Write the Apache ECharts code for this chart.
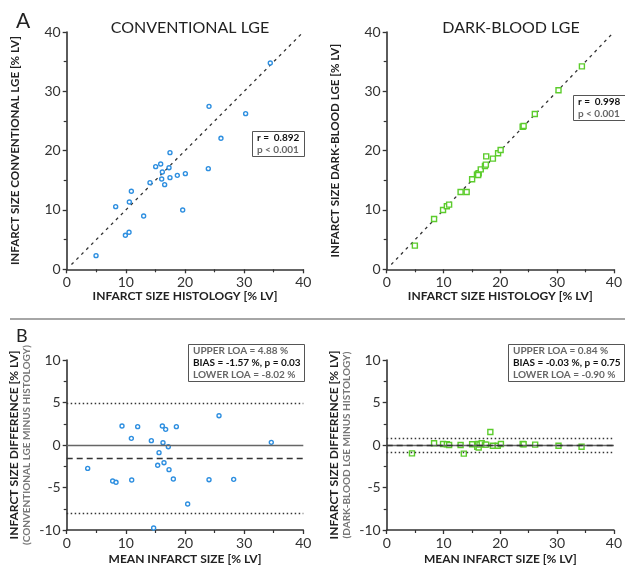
<!DOCTYPE html>
<html>
<head>
<meta charset="utf-8">
<script src="https://cdn.jsdelivr.net/npm/echarts@6/dist/echarts.min.js"></script>
<style>
  html, body { margin: 0; padding: 0; background: #fff; }
  #chart { width: 625px; height: 568px; }
</style>
</head>
<body>
<div id="chart"></div>
<script>
// Infarct size: histology vs conventional LGE (% LV)
const convHist = [4.96, 8.28, 9.92, 10.54, 10.59, 10.93, 13.01, 14.08, 15.04, 15.89, 16.17, 16.06,
                  16.56, 17.30, 17.46, 17.46, 18.70, 19.61, 20.06, 23.94, 24.06, 26.08, 30.25, 34.42];
const convLge  = [2.30, 10.56, 5.73, 6.24, 11.35, 13.15, 8.99, 14.61, 17.30, 17.75, 16.40, 15.22,
                  14.27, 17.13, 19.66, 15.45, 15.84, 10.00, 16.12, 16.97, 27.47, 22.08, 26.24, 34.78];

// Infarct size: histology vs dark-blood LGE (% LV)
const dbHist = [4.96, 8.34, 9.92, 10.59, 10.99, 13.01, 14.08, 15.04, 15.89, 16.06, 16.20, 16.10,
                16.56, 17.30, 17.46, 17.52, 18.70, 19.61, 20.06, 23.94, 24.11, 26.08, 30.25, 34.37];
const dbLge  = [3.99, 8.48, 10.00, 10.62, 10.90, 13.03, 13.03, 15.17, 15.96, 16.07, 16.20, 15.90,
                16.85, 17.40, 17.64, 19.04, 18.65, 19.55, 20.11, 24.04, 24.16, 26.18, 30.17, 34.21];

// Bland-Altman: conventional LGE minus histology
const baConvMean = [3.55, 7.77, 8.34, 9.35, 10.93, 10.99, 12.00, 14.31, 14.70, 15.38, 15.61, 16.17,
                    16.28, 16.45, 16.73, 17.18, 17.30, 18.03, 18.54, 20.45, 24.06, 25.75, 28.23, 34.59];
const baConvDiff = [-2.75, -4.24, -4.39, 2.24, 0.78, -4.12, 2.16, 0.51, -9.76, -2.39, -0.90, 2.24,
                    0.27, -2.08, 1.84, -0.20, -2.90, -4.00, 2.16, -6.94, -4.08, 3.45, -4.04, 0.31];

// Bland-Altman: dark-blood LGE minus histology
const baDbMean = [4.45, 8.34, 9.92, 10.59, 10.99, 13.01, 13.58, 15.04, 15.94, 16.06, 16.20, 16.34,
                  16.73, 17.30, 17.52, 18.25, 18.70, 19.55, 20.11, 23.94, 24.11, 26.14, 30.25, 34.31];
const baDbDiff = [-0.98, 0.20, 0.12, 0.08, 0.00, 0.00, -1.02, 0.08, -0.20, 0.12, -0.30, 0.04,
                  0.20, 0.04, 0.04, 1.53, -0.08, -0.08, 0.12, 0.12, 0.08, 0.04, -0.08, -0.20];

// Limits of agreement: [upper, bias, lower]
const loaConv = [4.88, -1.57, -8.02];
const loaDb   = [0.84, -0.03, -0.90];
const biasP   = [0.03, 0.75];

// Correlation statistics
const corrR = [0.892, 0.998];

// Line of identity
const identity = [[0.8, 0.8], [40, 40]];

// Axis ticks: [min, max, interval]
const corrTicks = [0, 40, 10];
const diffTicks = [-10, 10, 5];

const FONT = 'Lato';
const AXIS_COLOR = '#333';
const BLUE = '#2e8fe0';
const GREEN = '#5ccc2c';

const pairs = (a, b) => a.map((v, i) => [v, b[i]]);

function xAxisFor(gridIndex, name, gap) {
  return {
    type: 'value', gridIndex, min: corrTicks[0], max: corrTicks[1], interval: corrTicks[2],
    name, nameLocation: 'middle', nameGap: gap,
    nameTextStyle: { fontFamily: FONT, fontWeight: 'bold', fontSize: 12, color: '#222' },
    axisLine: { show: true, onZero: false, lineStyle: { color: AXIS_COLOR, width: 1.6 } },
    axisTick: { show: true, length: 4, lineStyle: { color: AXIS_COLOR, width: 1.3 } },
    minorTick: { show: true, splitNumber: 2, length: 3, lineStyle: { color: AXIS_COLOR, width: 1.2 } },
    splitLine: { show: false },
    axisLabel: { fontFamily: FONT, fontSize: 14, color: '#333', margin: 6 }
  };
}

function yAxisFor(gridIndex, ticks, name, gap, rich) {
  return {
    type: 'value', gridIndex, min: ticks[0], max: ticks[1], interval: ticks[2],
    name, nameLocation: 'middle', nameGap: gap, nameRotate: 90,
    nameTextStyle: Object.assign({ fontFamily: FONT, fontWeight: 'bold', fontSize: 11.6, color: '#222' },
                                 rich ? { rich } : {}),
    axisLine: { show: true, onZero: false, lineStyle: { color: AXIS_COLOR, width: 1.6 } },
    axisTick: { show: true, length: 4, lineStyle: { color: AXIS_COLOR, width: 1.3 } },
    minorTick: { show: true, splitNumber: 2, length: 3, lineStyle: { color: AXIS_COLOR, width: 1.2 } },
    splitLine: { show: false },
    axisLabel: { fontFamily: FONT, fontSize: 14, color: '#333', margin: 6 }
  };
}

const diffRich = {
  a: { fontFamily: FONT, fontWeight: 'bold', fontSize: 12, color: '#222', lineHeight: 13 },
  b: { fontFamily: FONT, fontSize: 10, color: '#777', lineHeight: 12 }
};

function loaLines(loa) {
  return {
    silent: true, symbol: ['none', 'none'], label: { show: false },
    emphasis: { disabled: true },
    data: [
      { yAxis: 0, lineStyle: { type: 'solid', color: '#666', width: 1.4 } },
      { yAxis: loa[0], lineStyle: { type: [1.5, 2.5], color: '#333', width: 1.3 } },
      { yAxis: loa[1], lineStyle: { type: [6, 4], color: '#333', width: 1.4 } },
      { yAxis: loa[2], lineStyle: { type: [1.5, 2.5], color: '#333', width: 1.3 } }
    ]
  };
}

const boxRich = {
  b: { fontFamily: FONT, fontWeight: 'bold', fontSize: 10, color: '#111', lineHeight: 12 },
  g: { fontFamily: FONT, fontSize: 10, color: '#666', lineHeight: 12 }
};

function statBox(left, top, lines, pad) {
  return {
    left, top, text: lines.join('\n'), padding: pad,
    borderColor: '#555', borderWidth: 1, backgroundColor: '#fff',
    textStyle: { rich: boxRich }
  };
}

const loaText = (loa, p) => [
  `{g|UPPER LOA = ${loa[0].toFixed(2)} %}`,
  `{b|BIAS = ${loa[1].toFixed(2)} %, p = ${p.toFixed(2)}}`,
  `{g|LOWER LOA = ${loa[2].toFixed(2)} %}`
];

const headStyle = { fontFamily: FONT, fontWeight: 'normal', fontSize: 16, color: '#222' };

const option = {
  animation: false,
  backgroundColor: '#fff',
  title: [
    { text: 'A', left: 11, top: 6, textStyle: { fontFamily: FONT, fontWeight: 'normal', fontSize: 21, color: '#222' } },
    { text: 'B', left: 11, top: 322, textStyle: { fontFamily: FONT, fontWeight: 'normal', fontSize: 18, color: '#222' } },
    { text: 'CONVENTIONAL LGE', left: 185, top: 15, textAlign: 'center', textStyle: headStyle },
    { text: 'DARK-BLOOD LGE', left: 506, top: 15, textAlign: 'center', textStyle: headStyle },
    statBox(252, 130, [`{b|r =  ${corrR[0].toFixed(3)}}`, '{g|p < 0.001}'], [2, 5, 2, 5]),
    statBox(573, 94, [`{b|r =  ${corrR[1].toFixed(3)}}`, '{g|p < 0.001}'], [2, 5, 2, 5]),
    statBox(188, 343, loaText(loaConv, biasP[0]), [2, 4, 2, 5]),
    statBox(508, 343, loaText(loaDb, biasP[1]), [2, 4, 2, 5])
  ],
  graphic: [
    { type: 'line', shape: { x1: 10, y1: 319, x2: 625, y2: 319 }, style: { stroke: '#888', lineWidth: 1.5 }, silent: true }
  ],
  grid: [
    { left: 66.7, top: 32, width: 236.6, height: 237.3 },
    { left: 386.7, top: 32, width: 236.6, height: 237.3 },
    { left: 66.7, top: 360, width: 236.6, height: 170 },
    { left: 386.7, top: 360, width: 236.6, height: 170 }
  ],
  xAxis: [
    xAxisFor(0, 'INFARCT SIZE HISTOLOGY [% LV]', 21),
    xAxisFor(1, 'INFARCT SIZE HISTOLOGY [% LV]', 21),
    xAxisFor(2, 'MEAN INFARCT SIZE [% LV]', 23),
    xAxisFor(3, 'MEAN INFARCT SIZE [% LV]', 23)
  ],
  yAxis: [
    yAxisFor(0, corrTicks, 'INFARCT SIZE CONVENTIONAL LGE [% LV]', 45),
    yAxisFor(1, corrTicks, 'INFARCT SIZE DARK-BLOOD LGE [% LV]', 45),
    yAxisFor(2, diffTicks, '{a|INFARCT SIZE DIFFERENCE [% LV]}\n{b|(CONVENTIONAL LGE MINUS HISTOLOGY)}', 34, diffRich),
    yAxisFor(3, diffTicks, '{a|INFARCT SIZE DIFFERENCE [% LV]}\n{b|(DARK-BLOOD LGE MINUS HISTOLOGY)}', 34, diffRich)
  ],
  series: [
    {
      type: 'line', xAxisIndex: 0, yAxisIndex: 0, data: identity, symbol: 'none', silent: true,
      lineStyle: { type: [3, 4], color: '#333', width: 1.3 }, z: 1
    },
    {
      type: 'scatter', xAxisIndex: 0, yAxisIndex: 0, data: pairs(convHist, convLge),
      symbol: 'circle', symbolSize: 4,
      itemStyle: { color: '#fff', borderColor: BLUE, borderWidth: 1.4, opacity: 1 }, z: 3
    },
    {
      type: 'line', xAxisIndex: 1, yAxisIndex: 1, data: identity, symbol: 'none', silent: true,
      lineStyle: { type: [3, 4], color: '#333', width: 1.3 }, z: 1
    },
    {
      type: 'scatter', xAxisIndex: 1, yAxisIndex: 1, data: pairs(dbHist, dbLge),
      symbol: 'rect', symbolSize: 5,
      itemStyle: { color: '#fff', borderColor: GREEN, borderWidth: 1.4, opacity: 1 }, z: 3
    },
    {
      type: 'scatter', xAxisIndex: 2, yAxisIndex: 2, data: pairs(baConvMean, baConvDiff),
      symbol: 'circle', symbolSize: 4,
      itemStyle: { color: '#fff', borderColor: BLUE, borderWidth: 1.4, opacity: 1 }, z: 3,
      markLine: loaLines(loaConv)
    },
    {
      type: 'scatter', xAxisIndex: 3, yAxisIndex: 3, data: pairs(baDbMean, baDbDiff),
      symbol: 'rect', symbolSize: 5,
      itemStyle: { color: '#fff', borderColor: GREEN, borderWidth: 1.4, opacity: 1 }, z: 3,
      markLine: loaLines(loaDb)
    }
  ]
};

const chart = echarts.init(document.getElementById('chart'), null, { renderer: 'canvas' });
chart.setOption(option);
</script>
</body>
</html>
